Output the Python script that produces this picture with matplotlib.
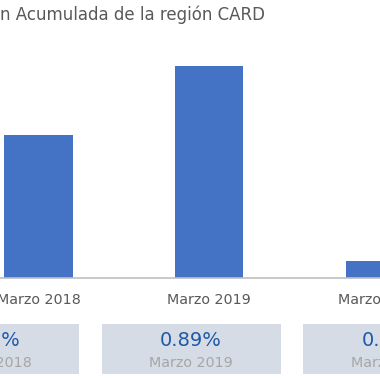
import numpy as np
import matplotlib
matplotlib.use("Agg")
import matplotlib.pyplot as plt

# data
periods = ["Marzo 2018", "Marzo 2019", "Marzo 2020"]
values = [0.60, 0.89, 0.07]
value_labels = ["0.60%", "0.89%", "0.07%"]
title = "n Acumulada de la región CARD"

BAR = "#4472C4"
GREY = "#595959"
BOX = "#D6DCE5"
VAL = "#1F58A8"
SUB = "#A6A6A6"

W = H = 380
fig = plt.figure(figsize=(3.8, 3.8), dpi=100)
plt.rcParams['font.family'] = ['DejaVu Sans']

# bar axes: baseline at y=277.5 px from top, bars 175.5 px apart, first centre at 39.5 px
ax = fig.add_axes([0, (H - 277.5) / H, 1, 227.5 / H])
idx = np.arange(len(periods))
ax.bar(idx, values, width=0.4, color=BAR)
ax.set_xlim(-39.5 / 175.5, (W - 39.5) / 175.5)
ax.set_ylim(0, 227.5 / 237.6)
for s in ["top", "left", "right"]:
    ax.spines[s].set_visible(False)
ax.spines["bottom"].set_color("#BFBFBF")
ax.spines["bottom"].set_linewidth(1.2)
ax.set_yticks([])
ax.set_xticks(idx, periods)
ax.tick_params(axis="x", length=0, pad=11, labelsize=10.3, labelcolor=GREY)

# summary boxes below, 201.5 px apart
bx = fig.add_axes([0, 6 / H, 1, 50 / H])
bx.bar(idx, [1] * len(idx), width=179 / 201.5, color=BOX)
bx.set_xlim(10.5 / 201.5, (W + 10.5) / 201.5)
bx.set_ylim(0, 1)
bx.axis("off")
for i, (lab, per) in zip(idx, zip(value_labels, periods)):
    bx.text(i, 0.68, lab, ha="center", va="center", fontsize=14, color=VAL)
    bx.text(i, 0.22, per, ha="center", va="center", fontsize=10.3, color=SUB)

fig.text(0, 1 - 15 / H, title, ha="left", va="center", fontsize=12, color=GREY)

fig.savefig("out.png", dpi=100)
